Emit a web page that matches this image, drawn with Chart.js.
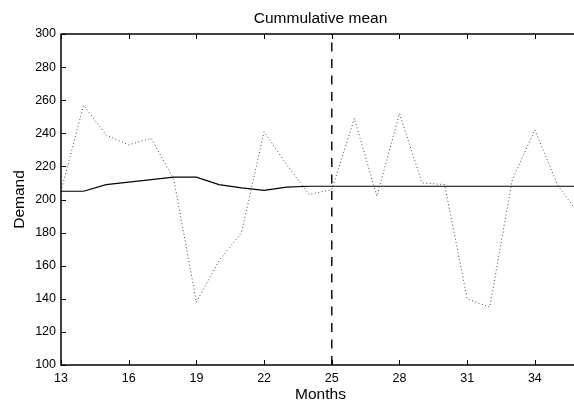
<!DOCTYPE html>
<html>
<head>
<meta charset="utf-8">
<script src="https://cdn.jsdelivr.net/npm/chart.js@4/dist/chart.umd.min.js"></script>
<style>
  html, body { margin: 0; padding: 0; background: #fff; overflow: hidden; }
  #wrap { width: 600px; height: 405px; }
</style>
</head>
<body>
<div id="wrap"><canvas id="myChart" width="590" height="405"></canvas></div>
<script>
  // months and observed demand (dotted)
  let months = [13, 14, 15, 16, 17, 18, 19, 20, 21, 22, 23, 24, 25, 26, 27, 28, 29, 30, 31, 32, 33, 34, 35, 36];
  let demand = [205, 257, 239, 233, 237, 212, 138, 163, 180, 241, 221, 203, 206, 249, 202, 252, 210, 209, 140, 135, 212, 242, 209, 190];
  // cumulative mean (solid)
  let cumMean = [205, 205, 209, 210.5, 212, 213.5, 213.5, 209, 207, 205.5, 207.5, 208, 208, 208, 208, 208, 208, 208, 208, 208, 208, 208, 208, 208];
  let splitMonth = 25;
  let xTicks = [13, 16, 19, 22, 25, 28, 31, 34];
  let yTicks = [100, 120, 140, 160, 180, 200, 220, 240, 260, 280, 300];

  let toPoints = (xs, ys) => xs.map((x, i) => ({x: x, y: ys[i]}));
  let fam = 'Liberation Sans, Arial, sans-serif';

  // matlab style ticks pointing into the plot, on all four sides
  const innerTicks = {
    id: 'innerTicks',
    afterDraw(chart) {
      let ctx = chart.ctx;
      let a = chart.chartArea;
      let xs = chart.scales.x, ys = chart.scales.y;
      ctx.save();
      ctx.strokeStyle = '#000';
      ctx.lineWidth = 1;
      ctx.beginPath();
      xTicks.forEach(v => {
        let px = Math.round(xs.getPixelForValue(v)) + 0.5;
        ctx.moveTo(px, a.bottom); ctx.lineTo(px, a.bottom - 5);
        ctx.moveTo(px, a.top); ctx.lineTo(px, a.top + 5);
      });
      yTicks.forEach(v => {
        let py = Math.round(ys.getPixelForValue(v)) + 0.5;
        ctx.moveTo(a.left, py); ctx.lineTo(a.left + 5, py);
        ctx.moveTo(a.right, py); ctx.lineTo(a.right - 5, py);
      });
      ctx.stroke();
      ctx.lineWidth = 1.5;
      ctx.strokeRect(a.left, a.top, a.right - a.left, a.bottom - a.top);
      ctx.restore();
    }
  };

  let ctx = document.getElementById('myChart').getContext('2d');
  let chart = new Chart(ctx, {
    type: 'line',
    data: {
      datasets: [
        {
          label: 'Demand',
          data: toPoints(months, demand),
          borderColor: '#444',
          borderWidth: 1,
          borderDash: [1, 2.5],
          pointRadius: 0,
          tension: 0
        },
        {
          label: 'Cummulative mean',
          data: toPoints(months, cumMean),
          borderColor: '#000',
          borderWidth: 1.2,
          pointRadius: 0,
          tension: 0
        },
        {
          label: 'split',
          data: [{x: splitMonth, y: 100}, {x: splitMonth, y: 300}],
          borderColor: '#111',
          borderWidth: 1.5,
          borderDash: [9, 7.5],
          pointRadius: 0
        }
      ]
    },
    options: {
      responsive: false,
      animation: false,
      layout: { padding: { left: 0, right: 10, top: 0, bottom: 0 } },
      plugins: {
        legend: { display: false },
        tooltip: { enabled: false }
      },
      scales: {
        x: {
          type: 'linear',
          min: 13,
          max: 36,
          afterFit: s => { s.height = 40; },
          afterBuildTicks: s => { s.ticks = xTicks.map(v => ({value: v})); },
          grid: { display: false, drawTicks: false },
          border: { display: false },
          ticks: { color: '#000', padding: 6, maxRotation: 0, autoSkip: false,
                   font: { family: fam, size: 12.5 } },
          title: { display: true, text: 'Months', color: '#000', padding: { top: 0, bottom: 1 },
                   font: { family: fam, size: 15.5 } }
        },
        // top axis only carries the plot title, centred over the axes box
        top: {
          type: 'linear',
          position: 'top',
          min: 13,
          max: 36,
          afterFit: s => { s.height = 34; },
          grid: { display: false, drawTicks: false },
          border: { display: false },
          ticks: { display: false },
          title: { display: true, text: 'Cummulative mean', color: '#000', padding: { top: 9, bottom: 0 },
                   font: { family: fam, size: 15.5 } }
        },
        y: {
          min: 100,
          max: 300,
          afterFit: s => { s.width = 61; },
          afterBuildTicks: s => { s.ticks = yTicks.map(v => ({value: v})); },
          grid: { display: false, drawTicks: false },
          border: { display: false },
          ticks: { color: '#000', padding: 5, autoSkip: false,
                   font: { family: fam, size: 12.5 } },
          title: { display: true, text: 'Demand', color: '#000', padding: { top: 10, bottom: 0 },
                   font: { family: fam, size: 15.5 } }
        }
      }
    },
    plugins: [innerTicks]
  });
</script>
</body>
</html>
